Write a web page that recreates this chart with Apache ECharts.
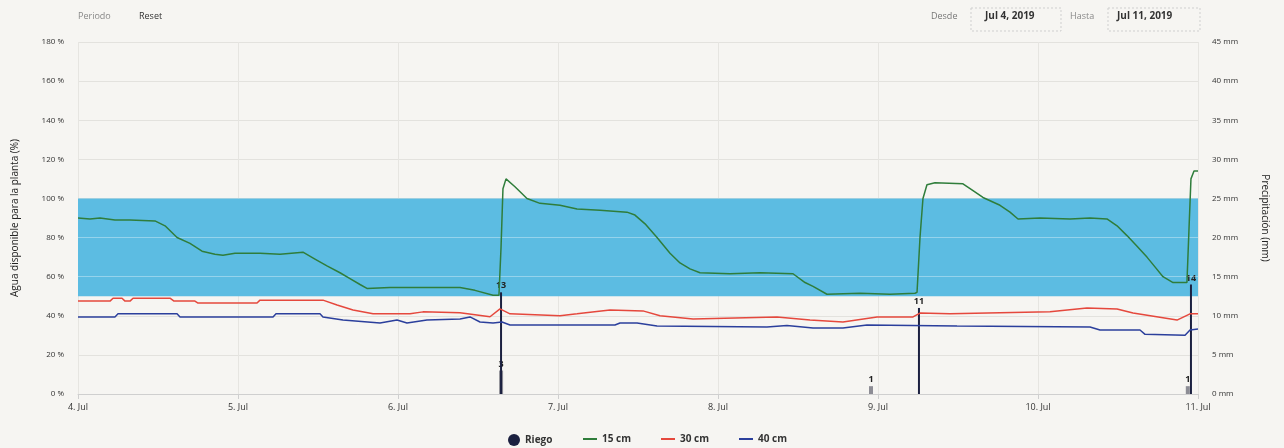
<!DOCTYPE html>
<html><head><meta charset="utf-8">
<script src="https://cdn.jsdelivr.net/npm/echarts@6/dist/echarts.min.js"></script>
<style>html,body{margin:0;padding:0;background:#f6f5f2;}#c{width:1284px;height:448px;}</style>
</head><body><div id="c"></div>
<script>
// x values are days of July 2019
const xTicks = [4,5,6,7,8,9,10,11];
const leftTicks = [0,20,40,60,80,100,120,140,160,180];
const rightTicks = [0,5,10,15,20,25,30,35,40,45];

const greenT = [4.000,4.075,4.1375,4.231,4.325,4.481,4.544,4.619,4.70,4.775,4.856,4.906,4.981,5.1375,5.2625,5.406,5.481,5.556,5.6375,5.70,5.7625,5.806,5.95,6.1375,6.294,6.3875,6.481,6.594,6.631,6.644,6.656,6.675,6.731,6.806,6.8875,7.0125,7.119,7.2625,7.431,7.481,7.544,7.619,7.70,7.7625,7.825,7.8875,8.075,8.2625,8.469,8.544,8.594,8.681,8.8875,9.075,9.231,9.244,9.2625,9.281,9.306,9.356,9.531,9.594,9.656,9.7625,9.825,9.875,10.0125,10.2,10.325,10.431,10.494,10.556,10.619,10.681,10.731,10.781,10.844,10.931,10.944,10.956,10.975,11.0];
const greenV = [90,89.5,90,89,89,88.5,86,80,77,73,71.5,71,72,72,71.5,72.5,69,65.5,62,59,56,54,54.5,54.5,54.5,54.5,53,50.5,50.5,75,105,110,106,100,97.5,96.5,94.6,94,93,91.5,87,80,72,67,64,62,61.5,62,61.5,57,55,51,51.5,51,51.5,52,80,100,107,108,107.5,104,100.5,96.5,93,89.5,90,89.5,90,89.5,86,81,75.5,70,65,60,57,57,85,110,114,114];

const redT = [4.0,4.2,4.219,4.275,4.294,4.325,4.344,4.575,4.6,4.731,4.75,5.119,5.1375,5.531,5.619,5.719,5.844,6.075,6.156,6.3875,6.575,6.6375,6.7,7.0125,7.119,7.325,7.531,7.6375,7.844,8.369,8.575,8.781,8.994,9.219,9.2625,9.45,10.075,10.306,10.494,10.594,10.869,10.95,11.0];
const redV = [47.5,47.5,49,49,47.5,47.5,49,49,47.5,47.5,46.5,46.5,48,48,45.5,43,41,41,42,41.5,39.5,43.5,41,40,41,43,42.5,40,38.3,39.4,37.8,36.8,39.4,39.4,41.4,41,42,44,43.5,41.4,37.8,41,41];

const blueT = [4.0,4.231,4.25,4.619,4.6375,5.219,5.2375,5.5125,5.531,5.656,5.8875,5.994,6.056,6.181,6.3875,6.45,6.5125,6.594,6.65,6.7,7.356,7.3875,7.494,7.619,8.306,8.431,8.594,8.781,8.931,9.494,10.325,10.3875,10.6375,10.669,10.919,10.95,11.0];
const blueV = [39.4,39.4,41,41,39.4,39.4,41,41,39.4,37.8,36.3,37.8,36.3,37.8,38.3,39.4,36.8,36.3,36.8,35.3,35.3,36.3,36.3,34.8,34.3,35,33.7,33.7,35.3,34.8,34.3,32.7,32.7,30.5,30,32.7,33.2];

const riegoT = [6.644,9.256,10.956];
const riegoV = [13,11,14];
const precipT = [6.638,8.95,10.93];
const precipV = [3,1,1];

const bandLow = 50, bandHigh = 100;

const zip = (t,v) => t.map((x,i)=>[x,v[i]]);
const FONT = 'Open Sans';
const legText = {fontSize:10,color:'#333',fontWeight:'bold',fontFamily:FONT};

const chart = echarts.init(document.getElementById('c'));
chart.setOption({
  backgroundColor:'#f6f5f2',
  animation:false,
  textStyle:{fontFamily:FONT},
  grid:{left:78,right:86,top:42,bottom:54},
  legend:[
    {data:[{name:'Riego',icon:'circle'}],left:503,top:429,itemWidth:12,itemHeight:12,textStyle:legText},
    {data:[{name:'15 cm',icon:'rect'},{name:'30 cm',icon:'rect'},{name:'40 cm',icon:'rect'}],
     left:578,top:429,itemWidth:14,itemHeight:2,itemGap:30,textStyle:legText}
  ],
  xAxis:{type:'value',min:4,max:11,interval:1,
    axisLine:{show:true,lineStyle:{color:'#cfcfcf'}},
    axisTick:{show:true,length:5,lineStyle:{color:'#cfcfcf'}},
    splitLine:{show:true,lineStyle:{color:'#e6e5e1'}},
    axisLabel:{formatter:v=>v+'. Jul',fontSize:9,color:'#333',margin:9,fontFamily:FONT}},
  yAxis:[
    {type:'value',min:0,max:180,interval:20,name:'Agua disponible para la planta (%)',
     nameLocation:'middle',nameGap:58,nameTextStyle:{fontSize:10,color:'#222',fontFamily:FONT},
     axisLabel:{formatter:v=>v+' %',fontSize:8,color:'#333',margin:14,fontFamily:FONT},
     axisLine:{show:false},axisTick:{show:false},
     splitLine:{lineStyle:{color:'#e3e2de'}}},
    {type:'value',min:0,max:45,interval:5,name:'Precipitación (mm)',position:'right',
     nameLocation:'middle',nameGap:62,nameRotate:-90,nameTextStyle:{fontSize:10,color:'#222',fontFamily:FONT},
     axisLabel:{formatter:v=>v+' mm',fontSize:8,color:'#333',margin:14,fontFamily:FONT},
     axisLine:{show:false},axisTick:{show:false},splitLine:{show:false}}
  ],
  series:[
    {name:'band',type:'line',data:[],z:1,silent:true,
     markArea:{silent:true,itemStyle:{color:'#5cbce2',opacity:1},data:[[{yAxis:bandLow},{yAxis:bandHigh}]]},
     markLine:{silent:true,symbol:'none',label:{show:false},lineStyle:{color:'rgba(255,255,255,0.35)',type:'solid',width:1},
       data:[{yAxis:60},{yAxis:80}]}},
    {name:'precip',type:'bar',yAxisIndex:1,z:3,barWidth:4,data:zip(precipT,precipV),
     itemStyle:{color:'#8d8d95'},
     label:{show:true,position:'top',distance:2,fontSize:9,fontWeight:'bold',color:'#222',fontFamily:FONT}},
    {name:'Riego',type:'bar',yAxisIndex:1,z:4,barWidth:2,barGap:'-100%',data:zip(riegoT,riegoV),
     itemStyle:{color:'#1b2040'},
     label:{show:true,position:'top',distance:2,fontSize:9,fontWeight:'bold',color:'#222',fontFamily:FONT}},
    {name:'15 cm',type:'line',z:5,showSymbol:false,data:zip(greenT,greenV),
     lineStyle:{color:'#2f7d3b',width:1.5},itemStyle:{color:'#2f7d3b'}},
    {name:'30 cm',type:'line',z:5,showSymbol:false,data:zip(redT,redV),
     lineStyle:{color:'#e5483d',width:1.5},itemStyle:{color:'#e5483d'}},
    {name:'40 cm',type:'line',z:5,showSymbol:false,data:zip(blueT,blueV),
     lineStyle:{color:'#2b3f9c',width:1.5},itemStyle:{color:'#2b3f9c'}}
  ],
  graphic:[
    {type:'text',left:78,top:12,style:{text:'Periodo',fontSize:9,fill:'#888',fontFamily:FONT}},
    {type:'text',left:139,top:12,style:{text:'Reset',fontSize:9,fill:'#333',fontFamily:FONT}},
    {type:'text',left:931,top:12,style:{text:'Desde',fontSize:9,fill:'#777',fontFamily:FONT}},
    {type:'rect',shape:{x:971,y:8,width:90,height:23},style:{fill:'none',stroke:'#cfcfcf',lineDash:[2,2]}},
    {type:'text',left:985,top:11,style:{text:'Jul 4, 2019',fontSize:10,fontWeight:'bold',fill:'#333',fontFamily:FONT}},
    {type:'text',left:1070,top:12,style:{text:'Hasta',fontSize:9,fill:'#888',fontFamily:FONT}},
    {type:'rect',shape:{x:1108,y:8,width:92,height:23},style:{fill:'none',stroke:'#cfcfcf',lineDash:[2,2]}},
    {type:'text',left:1117,top:11,style:{text:'Jul 11, 2019',fontSize:10,fontWeight:'bold',fill:'#333',fontFamily:FONT}}
  ]
});
</script></body></html>
